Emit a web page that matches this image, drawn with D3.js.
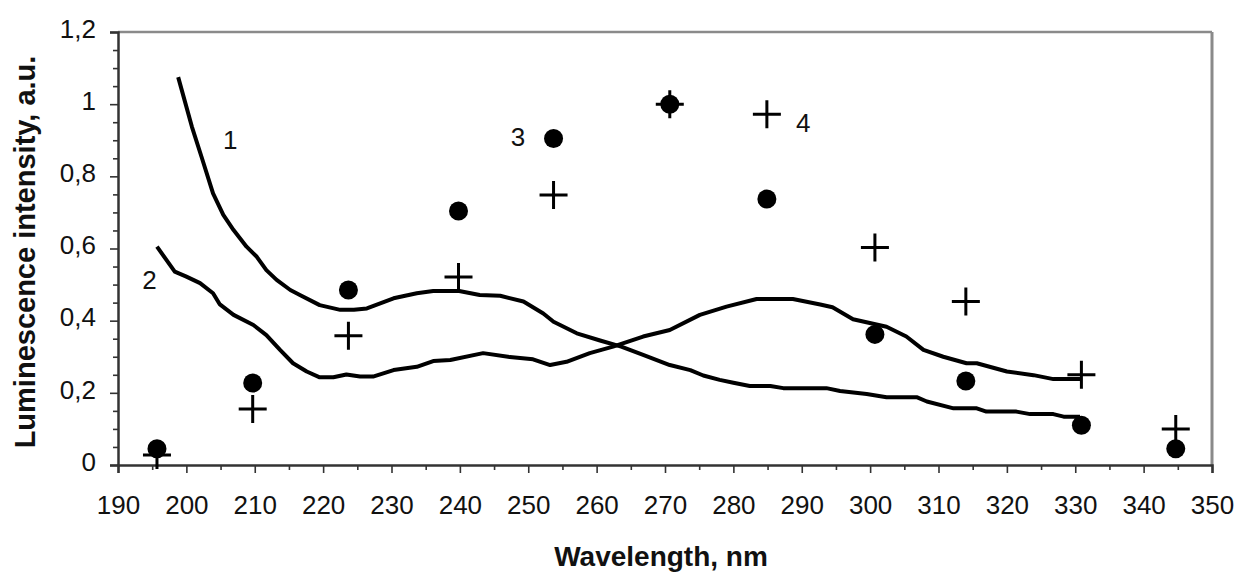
<!DOCTYPE html>
<html>
<head>
<meta charset="utf-8">
<script src="https://cdn.jsdelivr.net/npm/d3@7"></script>
<style>
  html, body { margin: 0; padding: 0; background: #fff; }
  svg { display: block; }
  text { font-family: "Liberation Sans", Arial, sans-serif; fill: #111; }
</style>
</head>
<body>
<svg id="chart" width="1238" height="573"></svg>
<script>
// Spectra: wavelength (nm) and relative luminescence intensity
const curve1Wavelength = [198.8, 200.8, 202.2, 203.9, 205.4, 206.9, 208.8, 210.3, 211.7, 213.2, 215.2, 216.6, 219.5, 222.5, 224.5, 226.4, 230.3, 233.7, 236.1, 239.9, 242.9, 245.9, 249.3, 252.2, 253.7, 257.1, 260.5, 263.6, 266.8, 270.7, 273.7, 275.6, 278.0, 280.0, 282.4, 285.4, 287.3, 293.6, 295.6, 299.5, 302.4, 306.8, 308.3, 312.2, 315.6, 317.0, 321.4, 323.4, 326.8, 328.3, 330.7];
const curve1Intensity  = [1.075, 0.938, 0.855, 0.753, 0.693, 0.651, 0.605, 0.577, 0.540, 0.513, 0.485, 0.471, 0.443, 0.430, 0.430, 0.434, 0.462, 0.476, 0.482, 0.482, 0.471, 0.469, 0.453, 0.420, 0.397, 0.365, 0.345, 0.328, 0.305, 0.277, 0.263, 0.248, 0.236, 0.228, 0.219, 0.219, 0.213, 0.213, 0.205, 0.197, 0.188, 0.188, 0.176, 0.157, 0.157, 0.148, 0.148, 0.141, 0.141, 0.134, 0.134];

const curve2Wavelength = [195.7, 198.3, 200.0, 202.0, 203.9, 204.9, 206.9, 209.8, 211.7, 213.7, 215.6, 217.6, 219.5, 221.5, 223.4, 225.4, 227.3, 230.3, 233.7, 236.1, 238.6, 243.4, 247.3, 250.7, 253.2, 255.6, 259.0, 262.4, 266.8, 270.7, 275.1, 279.0, 283.4, 288.7, 292.7, 294.5, 297.5, 302.4, 305.3, 307.8, 310.7, 314.1, 315.6, 320.0, 323.9, 326.8, 330.7];
const curve2Intensity  = [0.605, 0.536, 0.522, 0.504, 0.476, 0.445, 0.416, 0.388, 0.360, 0.319, 0.282, 0.259, 0.243, 0.243, 0.251, 0.245, 0.245, 0.263, 0.272, 0.288, 0.291, 0.310, 0.299, 0.293, 0.277, 0.286, 0.310, 0.328, 0.356, 0.374, 0.416, 0.439, 0.460, 0.460, 0.445, 0.437, 0.404, 0.383, 0.356, 0.319, 0.300, 0.282, 0.282, 0.259, 0.249, 0.238, 0.238];

// Excitation points (series 3: dots, series 4: crosses)
const pointWavelength  = [195.7, 209.7, 223.7, 239.8, 253.7, 270.7, 284.9, 300.7, 314.0, 330.9, 344.7];
const series3Intensity = [0.045, 0.227, 0.485, 0.704, 0.905, 1.0, 0.737, 0.362, 0.233, 0.110, 0.045];
const series4Intensity = [0.028, 0.155, 0.358, 0.521, 0.748, 1.0, 0.972, 0.603, 0.453, 0.250, 0.100];

// Axes
const xTicks = [190, 200, 210, 220, 230, 240, 250, 260, 270, 280, 290, 300, 310, 320, 330, 340, 350];
const xMinorTicks = [195, 205, 215, 225, 235, 245, 255, 265, 275, 285, 295, 305, 315, 325, 335, 345];
const yTicks = [0, 0.2, 0.4, 0.6, 0.8, 1.0, 1.2];
const yTickLabels = ["0", "0,2", "0,4", "0,6", "0,8", "1", "1,2"];
const yMinorTicks = [0.05, 0.1, 0.15, 0.25, 0.3, 0.35, 0.45, 0.5, 0.55, 0.65, 0.7, 0.75, 0.85, 0.9, 0.95, 1.05, 1.1, 1.15];

// Curve / series labels
const seriesLabels = [
  { text: "1", x: 206.4, y: 0.90 },
  { text: "2", x: 194.6, y: 0.513 },
  { text: "3", x: 248.5, y: 0.91 },
  { text: "4", x: 290.2, y: 0.947 }
];

const svg = d3.select("#chart");
const plot = { left: 118, right: 1212, top: 32, bottom: 465 };

const x = d3.scaleLinear().domain([190, 350]).range([plot.left, plot.right]);
const y = d3.scaleLinear().domain([0, 1.2]).range([plot.bottom, plot.top]);

// Frame: grey top and right edges
svg.append("line")
  .attr("x1", plot.left).attr("x2", plot.right)
  .attr("y1", plot.top).attr("y2", plot.top)
  .attr("stroke", "#8a8a8a").attr("stroke-width", 2.5);
svg.append("line")
  .attr("x1", plot.right).attr("x2", plot.right)
  .attr("y1", plot.top).attr("y2", plot.bottom)
  .attr("stroke", "#8a8a8a").attr("stroke-width", 3);

// Y axis
const yAxis = d3.axisLeft(y)
  .tickValues(yTicks)
  .tickFormat((d, i) => yTickLabels[i])
  .tickSize(8)
  .tickPadding(14);
const gy = svg.append("g")
  .attr("transform", `translate(${plot.left},0)`)
  .call(yAxis);
gy.select(".domain").attr("stroke", "#333").attr("stroke-width", 2.5);
gy.selectAll(".tick line").attr("stroke", "#333").attr("stroke-width", 1.6);
gy.selectAll(".tick text")
  .style("font-size", "26px")
  .style("font-family", "'Liberation Sans', Arial, sans-serif")
  .attr("fill", "#111")
  .attr("dy", "0.2em");

const gyMinor = svg.append("g")
  .attr("transform", `translate(${plot.left},0)`)
  .call(d3.axisLeft(y).tickValues(yMinorTicks).tickSize(5).tickFormat(""));
gyMinor.select(".domain").remove();
gyMinor.selectAll(".tick line").attr("stroke", "#333").attr("stroke-width", 1.6);

// X axis
const xAxis = d3.axisBottom(x)
  .tickValues(xTicks)
  .tickFormat(d3.format("d"))
  .tickSize(8)
  .tickPadding(23);
const gx = svg.append("g")
  .attr("transform", `translate(0,${plot.bottom})`)
  .call(xAxis);
gx.select(".domain").attr("stroke", "#333").attr("stroke-width", 2.5);
gx.selectAll(".tick line").attr("stroke", "#333").attr("stroke-width", 1.6);
gx.selectAll(".tick text")
  .style("font-size", "26px")
  .style("font-family", "'Liberation Sans', Arial, sans-serif")
  .attr("fill", "#111");

const gxMinor = svg.append("g")
  .attr("transform", `translate(0,${plot.bottom})`)
  .call(d3.axisBottom(x).tickValues(xMinorTicks).tickSize(5).tickFormat(""));
gxMinor.select(".domain").remove();
gxMinor.selectAll(".tick line").attr("stroke", "#333").attr("stroke-width", 1.6);

// Axis titles
svg.append("text")
  .attr("transform", `translate(35,252) rotate(-90)`)
  .attr("text-anchor", "middle")
  .style("font-size", "29px")
  .style("font-weight", "bold")
  .text("Luminescence intensity, a.u.");

svg.append("text")
  .attr("x", (plot.left + plot.right) / 2 - 4)
  .attr("y", 566)
  .attr("text-anchor", "middle")
  .style("font-size", "28px")
  .style("font-weight", "bold")
  .text("Wavelength, nm");

// Spectral curves
const line = d3.line()
  .x(d => x(d[0]))
  .y(d => y(d[1]));

const curves = [
  d3.zip(curve1Wavelength, curve1Intensity),
  d3.zip(curve2Wavelength, curve2Intensity)
];
svg.append("g").selectAll("path")
  .data(curves)
  .join("path")
  .attr("d", line)
  .attr("fill", "none")
  .attr("stroke", "#000")
  .attr("stroke-width", 4)
  .attr("stroke-linejoin", "round");

// Series 3: filled dots
svg.append("g").selectAll("circle")
  .data(d3.zip(pointWavelength, series3Intensity))
  .join("circle")
  .attr("cx", d => x(d[0]))
  .attr("cy", d => y(d[1]))
  .attr("r", 9.5)
  .attr("fill", "#000");

// Series 4: crosses
const arm = 14;
svg.append("g").selectAll("path")
  .data(d3.zip(pointWavelength, series4Intensity))
  .join("path")
  .attr("d", d => {
    const cx = x(d[0]), cy = y(d[1]);
    return `M${cx - arm},${cy}H${cx + arm}M${cx},${cy - arm}V${cy + arm}`;
  })
  .attr("stroke", "#000")
  .attr("stroke-width", 3)
  .attr("fill", "none");

// Series numbers
svg.append("g").selectAll("text")
  .data(seriesLabels)
  .join("text")
  .attr("x", d => x(d.x))
  .attr("y", d => y(d.y))
  .attr("text-anchor", "middle")
  .attr("dominant-baseline", "central")
  .style("font-size", "26px")
  .text(d => d.text);
</script>
</body>
</html>
